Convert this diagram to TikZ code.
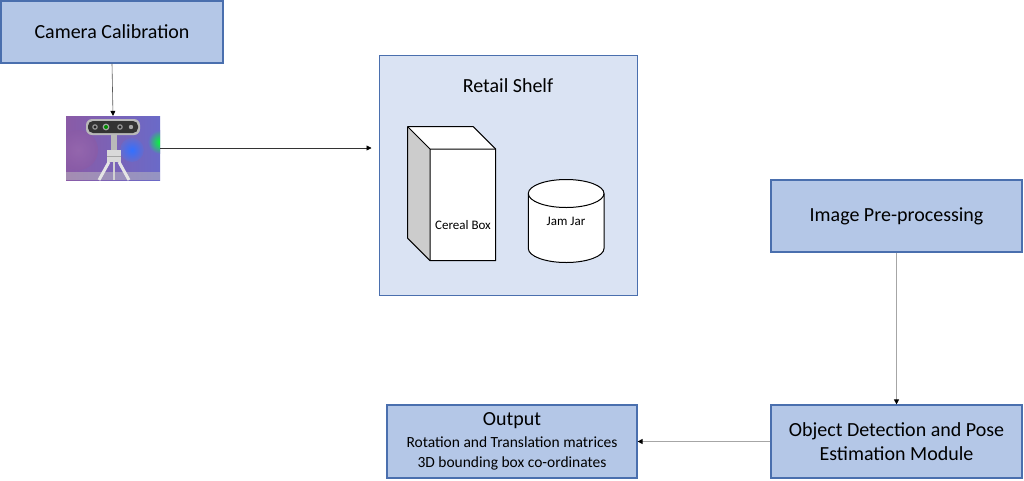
\documentclass[tikz,border=0pt]{standalone}
\usepackage{fontspec}
\setmainfont{Carlito}
\usetikzlibrary{arrows.meta,shapes.geometric}
\definecolor{boxfill}{HTML}{B4C7E7}
\definecolor{boxdraw}{HTML}{4A6FAE}
\definecolor{shelffill}{HTML}{DAE3F3}
\definecolor{sidegray}{HTML}{CCCCCC}
\definecolor{linegray}{HTML}{A6A6A6}
\definecolor{campurple}{HTML}{8A5BA6}
\definecolor{campink}{HTML}{9A6AAE}
\definecolor{camblue}{HTML}{6A6AC8}
\tikzset{
  blockbox/.style={draw=boxdraw, fill=boxfill, line width=1.2pt, rectangle, align=center, inner sep=2pt, font=\fontsize{20}{24}\selectfont},
  flowarrow/.style={line width=0.6pt, -{Triangle[length=5pt,width=5pt,color=black]}},
  smalllabel/.style={font=\fontsize{13}{15}\selectfont},
}
\begin{document}
\begin{tikzpicture}[x=1pt,y=-1pt]
\useasboundingbox (0,0) rectangle (1024,480);
\fill[white] (0,0) rectangle (1024,480);

% Camera Calibration
\node[blockbox, minimum width=222pt, minimum height=62pt] (calib) at (112,32) {Camera Calibration};

% Camera image
\node[rectangle, minimum width=94pt, minimum height=64pt, inner sep=0pt] (camimg) at (113,148) {};
\begin{scope}
\clip (66,116) rectangle (160,180);
\shade[left color=campurple, right color=camblue] (66,116) rectangle (160,180);
\shade[inner color=campink, outer color=campurple, opacity=0.7] (78,150) circle (20);
\shade[inner color=blue!70!cyan!80, outer color=camblue] (132,150) circle (12);
\shade[inner color=green!80!cyan, outer color=camblue] (160,142) circle (12);
\fill[gray!50, opacity=0.5] (66,172) rectangle (160,180);
% tripod
\fill[gray!55] (111,135) rectangle (117,150);
\fill[gray!30] (107,150) rectangle (121,162);
\draw[gray!70, line width=0.6pt] (107,156) -- (121,156);
\draw[gray!20, line width=3pt] (109,162) -- (99,180);
\draw[gray!20, line width=3pt] (119,162) -- (129,180);
\draw[gray!35, line width=2pt] (114,162) -- (114,180);
% camera bar
\fill[gray!55, rounded corners=6pt] (86,119) rectangle (140,135);
\fill[gray!40!black, rounded corners=5pt] (88,121) rectangle (138,133);
\fill[gray!80] (95,127) circle (2.8);
\fill[black!85] (95,127) circle (1.6);
\fill[gray!70] (106,127) circle (3.4);
\fill[green!55!black] (106,127) circle (2);
\fill[gray!80] (120,127) circle (2.8);
\fill[black!85] (120,127) circle (1.6);
\fill[gray!70] (131,127) circle (2.2);
\end{scope}

% Retail shelf
\node[draw=boxdraw, fill=shelffill, line width=1pt, rectangle, minimum width=258pt, minimum height=240pt] (shelf) at (508,175) {};
\node[font=\fontsize{20}{24}\selectfont] (shelftitle) at (508,86) {Retail Shelf};

% Cereal box
\coordinate (btl) at (407.7,126.7);
\coordinate (btr) at (473.3,126.7);
\coordinate (ftl) at (430,149);
\coordinate (ftr) at (495.7,149);
\coordinate (fbl) at (430,260.7);
\coordinate (fbr) at (495.7,260.7);
\coordinate (bbl) at (407.7,238.3);
\fill[white] (btl) -- (btr) -- (ftr) -- (ftl) -- cycle;
\fill[sidegray] (btl) -- (ftl) -- (fbl) -- (bbl) -- cycle;
\fill[white] (ftl) rectangle (fbr);
\draw[line width=1pt, line join=round] (btl) -- (btr) -- (ftr) -- (fbr) -- (fbl) -- (bbl) -- cycle;
\draw[line width=1pt, line join=round] (btl) -- (ftl) -- (ftr) (ftl) -- (fbl);
\node[smalllabel] (cereal) at (463,225) {Cereal Box};

% Jam jar
\fill[white] (528.3,193.5) rectangle (604,248.5);
\fill[white] (566.15,248.5) ellipse[x radius=37.85, y radius=14];
\fill[white] (566.15,193.5) ellipse[x radius=37.85, y radius=14];
\draw[line width=1pt] (528.3,193.5) -- (528.3,248.5) arc[start angle=180, end angle=0, x radius=37.85, y radius=14] -- (604,193.5);
\draw[line width=1pt] (566.15,193.5) ellipse[x radius=37.85, y radius=14];
\node[smalllabel] (jam) at (566,221) {Jam Jar};

% Image pre-processing
\node[blockbox, minimum width=251pt, minimum height=72pt] (prep) at (896.5,216) {Image Pre-processing};

% Object detection
\node[blockbox, minimum width=251pt, minimum height=73pt, font=\fontsize{20}{24}\selectfont] (detect) at (896.5,441.5) {Object Detection and Pose\\Estimation Module};

% Output
\node[blockbox, minimum width=250pt, minimum height=73pt, font=\fontsize{15.5}{19}\selectfont] (output) at (512,441.5) {{\fontsize{20}{20}\selectfont Output}\\[3pt]Rotation and Translation matrices\\[1pt]3D bounding box co-ordinates};

% Connectors
\draw[flowarrow, draw=black!65, line width=0.6pt] (calib.south) -- (camimg.north);
\draw[flowarrow, draw=black!80] (camimg.east) -- ([xshift=-7pt]shelf.west |- camimg.east);
\draw[flowarrow, draw=linegray, line width=1pt] (prep.south) -- (detect.north);
\draw[flowarrow, draw=linegray, line width=1pt] (detect.west) -- (output.east);
\end{tikzpicture}
\end{document}
